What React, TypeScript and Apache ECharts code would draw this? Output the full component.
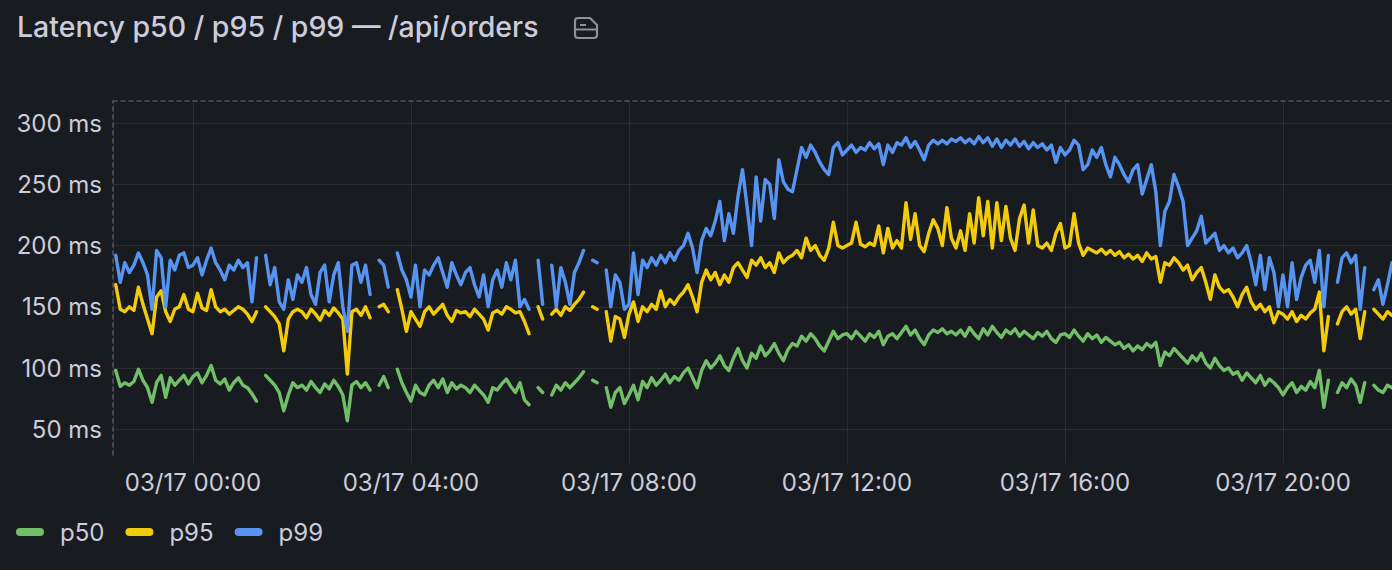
import React, { useEffect, useRef } from "react";
import * as echarts from "echarts";

const titleText = "Latency p50 / p95 / p99 — /api/orders";
const seriesNames = ["p50", "p95", "p99"];
const seriesColors = ["#73BF69", "#F2CC0C", "#5794F2"];
const yTickUnit = "ms";

// first sample 03/16 22:35, one sample every 5 minutes up to 03/17 22:00
const firstSample = [2025, 2, 16, 22, 35];
const stepMinutes = 5;
const axisStart = [2025, 2, 16, 22, 32];
const axisEnd = [2025, 2, 17, 22, 0];

const p50 = [
  98, 85, 88, 86, 89,
  99, 90, 84, 72, 88, 94, 76, 92, 86, 90, 94, 87,
  93, 96, 88, 94, 102, 90, 87, 91, 82, 88, 92, 86,
  84, 79, 73, null, 94, 90, 86, 80, 65, 78, 88, 84,
  86, 82, 89, 84, 80, 87, 83, 90, 85, 78, 57, 86,
  89, 84, 88, 82, null, 86, 93, 84, null, 99, 88, 80,
  73, 86, 80, 78, 86, 90, 84, 91, 80, 88, 83, 86,
  84, 80, 86, 82, 78, 72, 84, 82, 87, 91, 85, 80,
  88, 74, 70, null, 84, 80, null, 78, 86, 82, 88, 84,
  88, 92, 97, null, 90, 88, null, 84, 68, 80, 84, 71,
  78, 86, 74, 89, 84, 92, 86, 90, 95, 88, 93, 90,
  96, 100, 92, 84, 98, 106, 100, 104, 110, 102, 98, 108,
  116, 106, 100, 112, 108, 118, 110, 114, 120, 112, 106, 115,
  120, 118, 126, 122, 128, 124, 118, 114, 122, 130, 124, 127,
  128, 124, 130, 126, 122, 128, 125, 130, 119, 126, 128, 124,
  129, 134, 127, 131, 124, 119, 127, 131, 129, 132, 128, 130,
  127, 131, 126, 133, 128, 124, 132, 127, 134, 129, 125, 131,
  128, 132, 126, 130, 127, 124, 129, 126, 130, 124, 121, 127,
  128, 125, 131, 126, 122, 128, 124, 127, 121, 125, 122, 119,
  121, 116, 119, 114, 118, 115, 120, 117, 121, 102, 113, 110,
  116, 112, 108, 104, 110, 106, 112, 104, 100, 108, 102, 98,
  100, 95, 97, 90, 96, 92, 88, 94, 86, 91, 88, 84,
  78, 84, 88, 80, 85, 82, 89, 84, 98, 68, 90, null,
  80, 88, 84, 91, 86, 72, 88, null, 86, 82, 80, 86,
  84,
];

const p95 = [
  168, 148, 146, 150, 147,
  166, 152, 140, 128, 158, 163, 146, 138, 148, 150, 160, 148,
  146, 161, 149, 147, 164, 150, 146, 148, 144, 147, 150, 148,
  144, 138, 146, null, 150, 146, 142, 136, 114, 140, 146, 148,
  146, 141, 148, 144, 139, 147, 143, 149, 145, 140, 95, 146,
  148, 143, 150, 141, null, 150, 152, 146, null, 164, 148, 130,
  146, 140, 134, 146, 150, 144, 148, 152, 143, 138, 147, 145,
  146, 142, 148, 144, 140, 131, 145, 147, 144, 150, 148, 145,
  146, 138, 128, null, 150, 140, null, 144, 148, 143, 150, 147,
  152, 156, 162, null, 150, 148, null, 146, 122, 142, 140, 125,
  144, 154, 138, 150, 146, 152, 148, 163, 150, 156, 152, 158,
  162, 168, 158, 146, 170, 180, 172, 178, 168, 176, 170, 182,
  186, 180, 174, 188, 184, 190, 182, 186, 178, 194, 186, 190,
  192, 196, 190, 206, 196, 200, 192, 188, 198, 219, 200, 198,
  200, 202, 219, 201, 199, 202, 200, 216, 194, 214, 198, 204,
  198, 235, 205, 226, 200, 195, 210, 221, 214, 200, 231, 206,
  198, 212, 196, 226, 202, 239, 208, 236, 198, 235, 204, 232,
  206, 196, 222, 233, 202, 229, 200, 198, 202, 196, 210, 218,
  198, 200, 226, 202, 192, 198, 196, 194, 197, 193, 196, 192,
  195, 190, 193, 189, 192, 187, 194, 189, 191, 170, 186, 184,
  190, 186, 180, 184, 172, 178, 182, 170, 156, 176, 166, 162,
  164, 158, 150, 160, 166, 154, 148, 152, 146, 150, 137, 146,
  144, 140, 146, 138, 143, 140, 145, 148, 162, 114, 142, null,
  136, 146, 150, 144, 148, 124, 146, null, 148, 144, 140, 146,
  143,
];

const p99 = [
  192, 170, 186, 178, 184,
  194, 186, 176, 148, 196, 190, 150, 188, 180, 192, 194, 182,
  184, 190, 176, 188, 198, 186, 180, 172, 184, 180, 188, 182,
  186, 154, 190, null, 192, 168, 182, 154, 148, 172, 156, 176,
  170, 182, 160, 152, 178, 184, 154, 176, 186, 150, 130, 184,
  186, 170, 184, 160, null, 188, 184, 166, null, 194, 180, 172,
  158, 184, 150, 180, 176, 184, 190, 178, 166, 186, 176, 168,
  178, 182, 168, 158, 176, 150, 172, 180, 166, 186, 172, 188,
  150, 156, 148, null, 188, 152, null, 184, 150, 182, 170, 152,
  178, 186, 196, null, 188, 186, null, 180, 150, 176, 170, 148,
  152, 194, 160, 188, 182, 190, 184, 192, 186, 194, 188, 196,
  200, 210, 198, 178, 204, 214, 208, 220, 236, 204, 226, 210,
  240, 262, 232, 200, 256, 220, 254, 250, 222, 270, 252, 246,
  244, 262, 280, 272, 282, 276, 268, 262, 258, 280, 284, 274,
  278, 282, 276, 280, 278, 284, 279, 283, 266, 282, 276, 284,
  282, 288, 280, 285, 278, 270, 282, 286, 283, 286, 283, 287,
  285, 288, 284, 287, 283, 289, 284, 288, 281, 287, 280, 286,
  282, 287, 281, 285, 279, 284, 280, 283, 278, 282, 268, 280,
  274, 278, 286, 282, 262, 266, 278, 272, 280, 266, 256, 272,
  266, 258, 252, 262, 266, 242, 254, 266, 244, 200, 228, 236,
  258, 248, 236, 200, 206, 212, 224, 202, 206, 210, 196, 200,
  194, 198, 190, 194, 200, 186, 168, 192, 164, 190, 178, 150,
  176, 150, 186, 156, 174, 184, 188, 170, 196, 150, 192, null,
  170, 190, 194, 186, 192, 148, 182, null, 164, 172, 152, 168,
  186,
];

const TEXT = "#ccccdc";
const GRID_LINE = "rgba(204, 204, 220, 0.10)";
const BORDER_DASH = "#54565d";
const FONT = "Inter, 'Noto Sans', sans-serif";

const pad2 = (n: number) => String(n).padStart(2, "0");
const toMs = (p: number[]) => new Date(p[0], p[1], p[2], p[3], p[4]).getTime();

let iconRegistered = false;
function registerIcon() {
  if (iconRegistered) return;
  const DocIcon = echarts.graphic.extendPath(
    "M4 1 L16 1 L23 8 L23 18 Q23 21 20 21 L4 21 Q1 21 1 18 L1 4 Q1 1 4 1 Z M1 12.5 L23 12.5 M6 8 L12 8",
    {}
  );
  echarts.graphic.registerShape("docIcon", DocIcon);
  iconRegistered = true;
}

export default function App() {
  const ref = useRef<HTMLDivElement>(null);

  useEffect(() => {
    if (!ref.current) return;
    registerIcon();
    const chart = echarts.init(ref.current, undefined, { renderer: "svg" });
    const t0 = toMs(firstSample);
    const times = p50.map((_, i) => t0 + i * stepMinutes * 60000);
    const all = [p50, p95, p99];

    chart.setOption({
      animation: false,
      backgroundColor: "#181b1f",
      title: {
        text: titleText,
        left: 17,
        top: 12,
        padding: 0,
        textStyle: { color: TEXT, fontSize: 28.5, fontWeight: 500, fontFamily: FONT },
      },
      graphic: [
        {
          type: "docIcon",
          x: 574,
          y: 17,
          style: { fill: "none", stroke: "#8e909a", lineWidth: 2.2 },
        },
      ],
      legend: {
        left: 16,
        top: 520,
        padding: 0,
        icon: "path://M4,0L24,0A4,4,0,0,1,24,8L4,8A4,4,0,0,1,4,0Z",
        itemWidth: 28,
        itemHeight: 8,
        itemGap: 21,
        data: seriesNames,
        textStyle: { color: TEXT, fontSize: 24, fontFamily: FONT, padding: [0, 0, 0, 11] },
      },
      grid: { left: 113, right: 0, top: 101, bottom: 115, containLabel: false },
      xAxis: [
        {
          type: "time",
          min: toMs(axisStart),
          max: toMs(axisEnd),
          minInterval: 4 * 3600 * 1000,
          maxInterval: 4 * 3600 * 1000,
          axisLine: { show: false },
          axisTick: { show: true, length: 8, lineStyle: { color: GRID_LINE } },
          splitLine: { show: true, lineStyle: { color: GRID_LINE, width: 1 } },
          axisLabel: {
            color: TEXT,
            fontSize: 24,
            fontFamily: FONT,
            margin: 15,
            showMinLabel: false,
            showMaxLabel: false,
            hideOverlap: false,
            formatter: (v: number) => {
              const d = new Date(v);
              return `${pad2(d.getMonth() + 1)}/${pad2(d.getDate())} ${pad2(d.getHours())}:${pad2(d.getMinutes())}`;
            },
          },
        },
        {
          type: "time",
          position: "top",
          min: toMs(axisStart),
          max: toMs(axisEnd),
          axisLine: { show: true, lineStyle: { color: BORDER_DASH, type: [4, 4], width: 1.5 } },
          axisTick: { show: false },
          axisLabel: { show: false },
          splitLine: { show: false },
        },
      ],
      yAxis: {
        type: "value",
        min: 29,
        max: 318,
        splitNumber: 5,
        axisLine: { show: true, lineStyle: { color: BORDER_DASH, type: [4, 4], width: 1.5 } },
        axisTick: { show: false },
        splitLine: {
          show: true,
          showMinLine: false,
          showMaxLine: false,
          lineStyle: { color: GRID_LINE, width: 1 },
        },
        axisLabel: {
          color: TEXT,
          fontSize: 24,
          fontFamily: FONT,
          margin: 11,
          showMinLabel: false,
          showMaxLabel: false,
          formatter: (v: number) => `${v} ${yTickUnit}`,
        },
      },
      series: all.map((arr, k) => ({
        name: seriesNames[k],
        type: "line",
        xAxisIndex: 0,
        showSymbol: false,
        connectNulls: false,
        smooth: false,
        color: seriesColors[k],
        lineStyle: { width: 3.4, color: seriesColors[k], join: "round", cap: "round" },
        data: arr.map((v, i) => [times[i], v === null ? null : v]),
      })),
    });

    return () => chart.dispose();
  }, []);

  return (
    <div
      ref={ref}
      style={{ position: "absolute", left: 0, top: 0, width: 1392, height: 570, background: "#181b1f" }}
    />
  );
}
